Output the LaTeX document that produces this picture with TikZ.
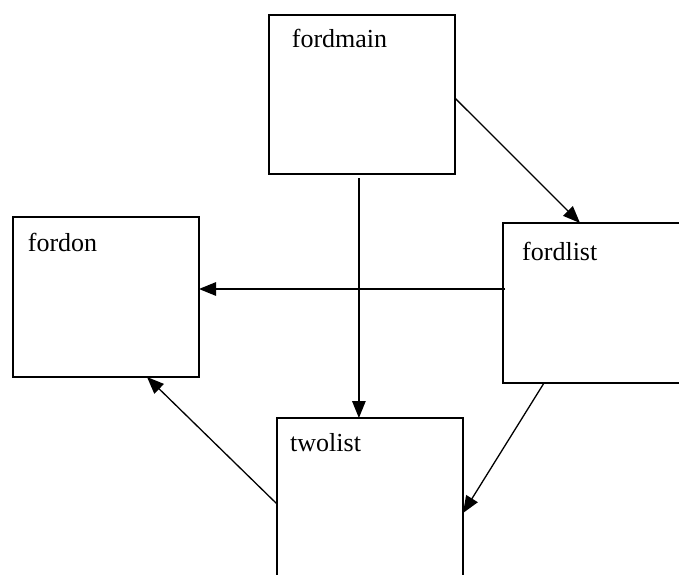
\documentclass[tikz,border=0pt]{standalone}
\usepackage{fontspec}
\setmainfont{Liberation Serif}
\usetikzlibrary{arrows.meta}
\begin{document}
\begin{tikzpicture}[x=1pt,y=1pt,
  modbox/.style={draw, line width=2pt, rectangle, inner sep=0pt, outer sep=0pt},
  modlabel/.style={anchor=base west, inner sep=0pt, font=\fontsize{26}{30}\selectfont},
  link/.style={line width=1.3pt, -{Triangle[length=17pt,width=13.5pt]}}]
\useasboundingbox (0,0) rectangle (679,574);
% module boxes
\node[modbox, minimum width=186pt, minimum height=159pt] (fordmain) at (361.9,479.5) {};
\node[modbox, minimum width=186pt, minimum height=160pt] (fordon) at (106,277) {};
\node[modbox, minimum width=217pt, minimum height=160pt] (fordlist) at (611.5,271) {};
\node[modbox, minimum width=186pt, minimum height=202pt] (twolist) at (370,55) {};
% box titles
\node[modlabel] (tmain) at (291.7,526.3) {fordmain};
\node[modlabel] (ton) at (27.7,322.3) {fordon};
\node[modlabel] (tlist) at (522,313.3) {fordlist};
\node[modlabel] (ttwo) at (290,122.3) {twolist};
% call links
\draw[link] ([yshift=-3.5pt]fordmain.east) -- ([xshift=77pt]fordlist.north west);
\coordinate (mdown) at ([shift={(-3pt,-4pt)}]fordmain.south);
\draw[link] (mdown) -- (mdown |- twolist.north);
\coordinate (lleft) at ([shift={(2pt,14pt)}]fordlist.west);
\draw[link] (lleft) -- (lleft -| fordon.east);
\draw[link] ([xshift=41pt]fordlist.south west) -- ([yshift=6pt]twolist.east);
\draw[link] ([yshift=15pt]twolist.west) -- ([xshift=41pt]fordon.south);
\end{tikzpicture}
\end{document}
